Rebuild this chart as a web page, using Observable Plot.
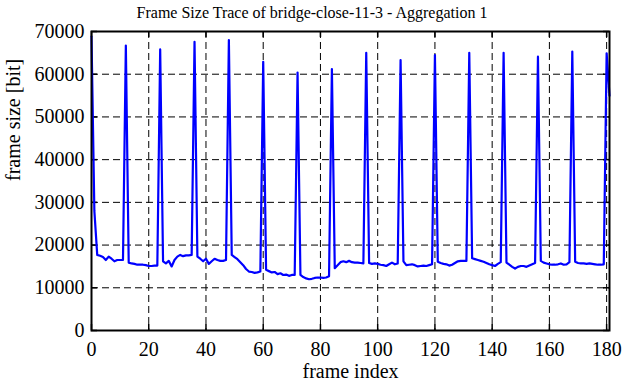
<!DOCTYPE html>
<html><head><meta charset="utf-8">
<script src="https://cdn.jsdelivr.net/npm/d3@7"></script>
<script src="https://cdn.jsdelivr.net/npm/@observablehq/plot@0.6"></script>
<style>body{margin:0;background:#fff} svg text{font-family:'Liberation Serif','DejaVu Serif',serif !important}</style>
</head><body><div id="chart"></div>
<script>
const title = "Frame Size Trace of bridge-close-11-3 - Aggregation 1";
const xLabel = "frame index";
const yLabel = "frame size [bit]";
const xTicks = [0, 20, 40, 60, 80, 100, 120, 140, 160, 180];
const yTicks = [0, 10000, 20000, 30000, 40000, 50000, 60000, 70000];
// frame size [bit], one value per frame index 0..181
const frameSizes = [
  68800, 28000, 17700, 17500, 17200, 16500, 17300, 16800, 16200, 16500, 16500, 16500,
  66700, 15900, 15700, 15600, 15400, 15400, 15400, 15300, 15100, 15100, 15200, 15200,
  65800, 16200, 15700, 16300, 15000, 16500, 17300, 17700, 17400, 17600, 17600, 17700,
  67600, 17300, 16800, 16200, 16800, 15600, 16200, 16800, 16500, 16300, 16300, 16500,
  68000, 17700, 17200, 16700, 16000, 15300, 14400, 13800, 13700, 13500, 13600, 13800,
  62900, 14200, 13900, 13600, 13700, 13200, 13400, 13000, 13100, 12800, 13000, 13000,
  60400, 13000, 12500, 12200, 12000, 12100, 12300, 12400, 12400, 12300, 12400, 12700,
  61200, 14600, 15300, 16000, 16200, 16000, 16300, 16000, 15900, 15900, 15800, 15700,
  65000, 15800, 15600, 15700, 15600, 15400, 15300, 15100, 15500, 15900, 15500, 15700,
  63300, 16200, 15300, 15400, 15500, 15300, 15000, 15100, 15200, 15100, 15300, 15500,
  64500, 16100, 15800, 15600, 15500, 15200, 15400, 15800, 16200, 16300, 16300, 16300,
  65000, 16900, 16700, 16500, 16300, 16100, 15800, 15500, 15300, 15100, 15600, 16000,
  65000, 15900, 15400, 14900, 14500, 14900, 15100, 15100, 14900, 15200, 15500, 15800,
  64100, 16300, 15900, 15700, 15500, 15400, 15400, 15500, 15700, 15400, 15500, 16000,
  65300, 16100, 15800, 15700, 15700, 15600, 15700, 15600, 15500, 15400, 15400, 15500,
  64900, 55000
];
const data = frameSizes.map((v, i) => ({frame: i, size: v}));

const W = 623, H = 382, mL = 91, mR = 14, mT = 31, mB = 52;
const pw = W - mL - mR, ph = H - mT - mB;
const serif = "'Liberation Serif', 'DejaVu Serif', serif";
const gridStyle = {stroke: "#000", strokeOpacity: 1, strokeWidth: 1, strokeDasharray: "7,4"};
const tickStyle = {stroke: "#000", strokeOpacity: 1, strokeWidth: 1.5};

const chart = Plot.plot({
  width: W, height: H,
  marginLeft: mL, marginRight: mR, marginTop: mT, marginBottom: mB,
  style: {fontFamily: serif, fontSize: "20px", background: "#fff", color: "#000"},
  x: {domain: [0, 181]},
  y: {domain: [0, 70000]},
  marks: [
    Plot.gridX(xTicks, gridStyle),
    Plot.gridY(yTicks, gridStyle),
    Plot.tickY(yTicks, {y: d => d, insetRight: pw - 6, ...tickStyle}),
    Plot.tickY(yTicks, {y: d => d, insetLeft: pw - 6, ...tickStyle}),
    Plot.tickX(xTicks, {x: d => d, insetTop: ph - 6, ...tickStyle}),
    Plot.tickX(xTicks, {x: d => d, insetBottom: ph - 6, ...tickStyle}),
    Plot.line(data, {x: "frame", y: "size", stroke: "#0000ff", strokeWidth: 2.2}),
    Plot.frame({stroke: "#000", strokeWidth: 2}),
    Plot.axisX(xTicks, {tickSize: 0, tickPadding: 11, label: null, fontSize: 20, fontFamily: serif}),
    Plot.axisY(yTicks, {tickSize: 0, tickPadding: 7, label: null, fontSize: 20, fontFamily: serif, tickFormat: d => String(d)}),
    Plot.text([xLabel], {frameAnchor: "bottom", lineAnchor: "middle", dy: 41, fontSize: 20, fontFamily: serif, fill: "#000"}),
    Plot.text([yLabel], {frameAnchor: "left", lineAnchor: "middle", rotate: -90, dx: -78, fontSize: 20, fontFamily: serif, fill: "#000"}),
    Plot.text([title], {frameAnchor: "top", lineAnchor: "middle", dx: -38.5, dy: -18.5, fontSize: 16, fontFamily: serif, fill: "#000"})
  ]
});
document.getElementById("chart").appendChild(chart);
</script>
</body></html>
